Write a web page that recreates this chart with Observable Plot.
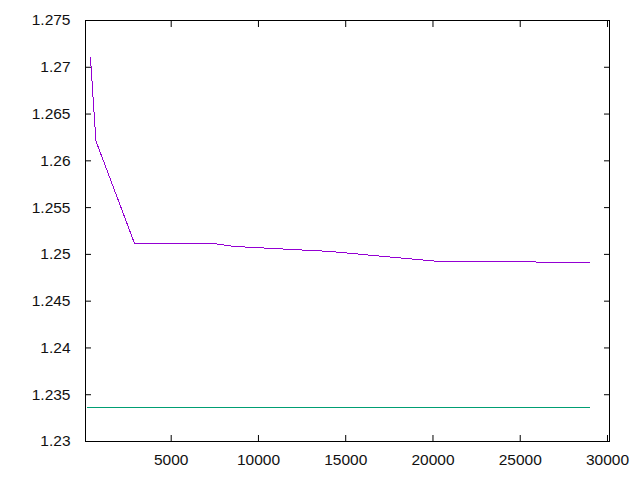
<!DOCTYPE html>
<html>
<head>
<meta charset="utf-8">
<script src="https://cdn.jsdelivr.net/npm/d3@7"></script>
<script src="https://cdn.jsdelivr.net/npm/@observablehq/plot@0.6"></script>
<style>
  html, body { margin: 0; padding: 0; background: #fff; }
  #chart svg { display: block; }
</style>
</head>
<body>
<div id="chart"></div>
<script>
const purpleX = [376, 685, 2897, 7349, 8667, 14053, 20298, 28950];
const purpleY = [1.2710, 1.26214, 1.25118, 1.25118, 1.25084, 1.25032, 1.24925, 1.24915];
const greenX = [190, 28950];
const greenY = [1.23361, 1.23361];
const xTicks = [5000, 10000, 15000, 20000, 25000, 30000];
const yTicks = [1.23, 1.235, 1.24, 1.245, 1.25, 1.255, 1.26, 1.265, 1.27, 1.275];

const purple = purpleX.map((x, i) => ({x, y: purpleY[i]}));
const green = greenX.map((x, i) => ({x, y: greenY[i]}));

const fmt = d => `${d}`;
const chart = Plot.plot({
  width: 640,
  height: 480,
  marginLeft: 85,
  marginRight: 31,
  marginTop: 20,
  marginBottom: 39,
  style: {fontFamily: "Liberation Sans, Arial, sans-serif", fontSize: "15.5px", color: "#000", background: "#fff"},
  x: {domain: [90, 30115]},
  y: {domain: [1.23, 1.275]},
  marks: [
    Plot.frame({stroke: "#000", strokeWidth: 1, shapeRendering: "crispEdges"}),
    Plot.axisX({anchor: "bottom", ticks: xTicks, tickSize: -6, tickPadding: 18, tickFormat: fmt, label: null, stroke: "#000", fill: "#111"}),
    Plot.axisX({anchor: "top", ticks: xTicks, tickSize: -6, tickFormat: () => "", label: null, stroke: "#000"}),
    Plot.axisY({anchor: "left", ticks: yTicks, tickSize: -6, tickPadding: 21, tickFormat: fmt, label: null, stroke: "#000", fill: "#111"}),
    Plot.axisY({anchor: "right", ticks: yTicks, tickSize: -6, tickFormat: () => "", label: null, stroke: "#000"}),
    Plot.line(green, {x: "x", y: "y", stroke: "#009e73", strokeWidth: 1, shapeRendering: "crispEdges"}),
    Plot.line(purple, {x: "x", y: "y", stroke: "#9400d3", strokeWidth: 1, shapeRendering: "crispEdges"})
  ]
});
document.getElementById("chart").appendChild(chart);
</script>
</body>
</html>
